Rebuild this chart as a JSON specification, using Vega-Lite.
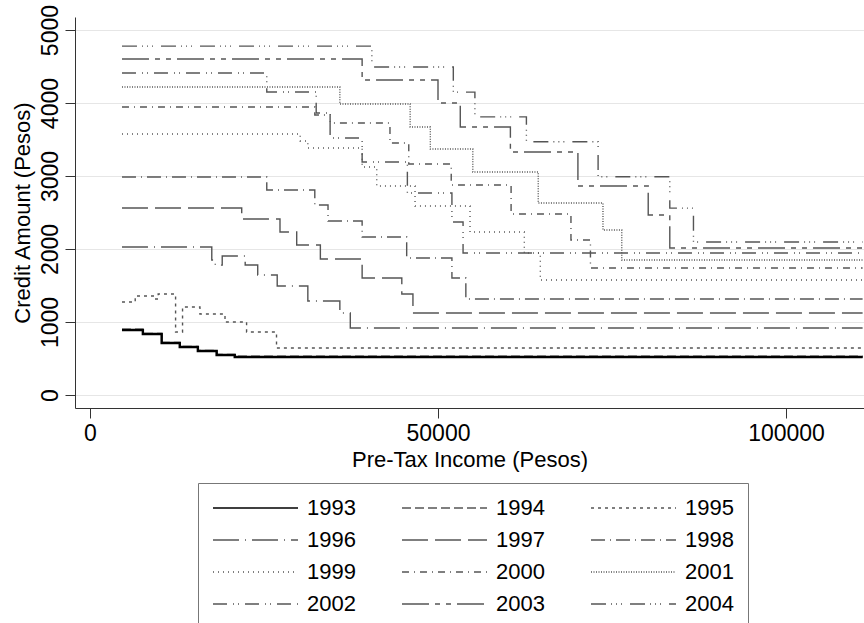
{
  "$schema": "https://vega.github.io/schema/vega-lite/v6.json",
  "width": 789,
  "height": 391,
  "autosize": {"type": "none"},
  "padding": {"left": 75, "top": 17, "right": 0, "bottom": 215},
  "background": "white",
  "config": {
    "font": "Liberation Sans",
    "view": {"stroke": null},
    "axis": {
      "labelFont": "Liberation Sans",
      "titleFont": "Liberation Sans",
      "labelFontSize": 23,
      "titleFontSize": 22,
      "titleFontWeight": "normal",
      "labelColor": "#000000",
      "titleColor": "#000000",
      "domainColor": "#333333",
      "tickColor": "#333333",
      "tickSize": 10,
      "gridColor": "#e6e6e6",
      "gridWidth": 1
    }
  },
  "data": {
    "values": [
      {"year": "1993", "income": 4600, "credit": 890},
      {"year": "1993", "income": 7600, "credit": 836},
      {"year": "1993", "income": 10300, "credit": 712},
      {"year": "1993", "income": 12900, "credit": 658},
      {"year": "1993", "income": 15500, "credit": 603},
      {"year": "1993", "income": 18200, "credit": 548},
      {"year": "1993", "income": 20800, "credit": 520},
      {"year": "1993", "income": 111000, "credit": 520},

      {"year": "1994", "income": 4600, "credit": 900},
      {"year": "1994", "income": 7600, "credit": 845},
      {"year": "1994", "income": 10300, "credit": 720},
      {"year": "1994", "income": 12900, "credit": 665},
      {"year": "1994", "income": 15500, "credit": 610},
      {"year": "1994", "income": 18200, "credit": 555},
      {"year": "1994", "income": 20800, "credit": 530},
      {"year": "1994", "income": 111000, "credit": 530},

      {"year": "1995", "income": 4600, "credit": 1274},
      {"year": "1995", "income": 6500, "credit": 1356},
      {"year": "1995", "income": 9300, "credit": 1315},
      {"year": "1995", "income": 9800, "credit": 1384},
      {"year": "1995", "income": 12300, "credit": 863},
      {"year": "1995", "income": 13300, "credit": 1206},
      {"year": "1995", "income": 15800, "credit": 1110},
      {"year": "1995", "income": 19400, "credit": 1000},
      {"year": "1995", "income": 22500, "credit": 863},
      {"year": "1995", "income": 26800, "credit": 644},
      {"year": "1995", "income": 111000, "credit": 644},

      {"year": "1996", "income": 4600, "credit": 2027},
      {"year": "1996", "income": 17500, "credit": 1850},
      {"year": "1996", "income": 18000, "credit": 1780},
      {"year": "1996", "income": 19000, "credit": 1904},
      {"year": "1996", "income": 22300, "credit": 1781},
      {"year": "1996", "income": 24100, "credit": 1644},
      {"year": "1996", "income": 26900, "credit": 1493},
      {"year": "1996", "income": 31300, "credit": 1288},
      {"year": "1996", "income": 35900, "credit": 1123},
      {"year": "1996", "income": 37400, "credit": 918},
      {"year": "1996", "income": 111000, "credit": 918},

      {"year": "1997", "income": 4600, "credit": 2562},
      {"year": "1997", "income": 21800, "credit": 2411},
      {"year": "1997", "income": 27300, "credit": 2233},
      {"year": "1997", "income": 29700, "credit": 2055},
      {"year": "1997", "income": 33100, "credit": 1863},
      {"year": "1997", "income": 39100, "credit": 1603},
      {"year": "1997", "income": 44800, "credit": 1384},
      {"year": "1997", "income": 46400, "credit": 1123},
      {"year": "1997", "income": 111000, "credit": 1123},

      {"year": "1998", "income": 4600, "credit": 2987},
      {"year": "1998", "income": 25400, "credit": 2809},
      {"year": "1998", "income": 32300, "credit": 2603},
      {"year": "1998", "income": 34200, "credit": 2384},
      {"year": "1998", "income": 39100, "credit": 2165},
      {"year": "1998", "income": 45500, "credit": 1877},
      {"year": "1998", "income": 52000, "credit": 1603},
      {"year": "1998", "income": 54000, "credit": 1315},
      {"year": "1998", "income": 111000, "credit": 1315},

      {"year": "1999", "income": 4600, "credit": 3576},
      {"year": "1999", "income": 30200, "credit": 3480},
      {"year": "1999", "income": 31300, "credit": 3384},
      {"year": "1999", "income": 39100, "credit": 3124},
      {"year": "1999", "income": 41200, "credit": 2863},
      {"year": "1999", "income": 46700, "credit": 2589},
      {"year": "1999", "income": 54600, "credit": 2233},
      {"year": "1999", "income": 62400, "credit": 1945},
      {"year": "1999", "income": 64700, "credit": 1576},
      {"year": "1999", "income": 111000, "credit": 1576},

      {"year": "2000", "income": 4600, "credit": 3946},
      {"year": "2000", "income": 32300, "credit": 3836},
      {"year": "2000", "income": 34500, "credit": 3726},
      {"year": "2000", "income": 43100, "credit": 3452},
      {"year": "2000", "income": 45800, "credit": 3165},
      {"year": "2000", "income": 51900, "credit": 2877},
      {"year": "2000", "income": 60500, "credit": 2480},
      {"year": "2000", "income": 69100, "credit": 2124},
      {"year": "2000", "income": 71900, "credit": 1740},
      {"year": "2000", "income": 111000, "credit": 1740},

      {"year": "2001", "income": 4600, "credit": 4220},
      {"year": "2001", "income": 35900, "credit": 3987},
      {"year": "2001", "income": 46000, "credit": 3672},
      {"year": "2001", "income": 48900, "credit": 3370},
      {"year": "2001", "income": 55000, "credit": 3055},
      {"year": "2001", "income": 64400, "credit": 2630},
      {"year": "2001", "income": 73700, "credit": 2260},
      {"year": "2001", "income": 76400, "credit": 1850},
      {"year": "2001", "income": 111000, "credit": 1850},

      {"year": "2002", "income": 4600, "credit": 4411},
      {"year": "2002", "income": 25400, "credit": 4151},
      {"year": "2002", "income": 32500, "credit": 3863},
      {"year": "2002", "income": 34500, "credit": 3521},
      {"year": "2002", "income": 39100, "credit": 3192},
      {"year": "2002", "income": 45600, "credit": 2767},
      {"year": "2002", "income": 52000, "credit": 2370},
      {"year": "2002", "income": 53600, "credit": 1945},
      {"year": "2002", "income": 111000, "credit": 1945},

      {"year": "2003", "income": 4600, "credit": 4603},
      {"year": "2003", "income": 39100, "credit": 4316},
      {"year": "2003", "income": 50000, "credit": 4000},
      {"year": "2003", "income": 53200, "credit": 3672},
      {"year": "2003", "income": 60400, "credit": 3329},
      {"year": "2003", "income": 70100, "credit": 2863},
      {"year": "2003", "income": 80200, "credit": 2466},
      {"year": "2003", "income": 83300, "credit": 2014},
      {"year": "2003", "income": 111000, "credit": 2014},

      {"year": "2004", "income": 4600, "credit": 4780},
      {"year": "2004", "income": 40500, "credit": 4494},
      {"year": "2004", "income": 52200, "credit": 4150},
      {"year": "2004", "income": 55300, "credit": 3810},
      {"year": "2004", "income": 62700, "credit": 3470},
      {"year": "2004", "income": 73000, "credit": 2990},
      {"year": "2004", "income": 83300, "credit": 2560},
      {"year": "2004", "income": 86700, "credit": 2096},
      {"year": "2004", "income": 111000, "credit": 2096}
    ]
  },
  "encoding": {
    "x": {
      "field": "income",
      "type": "quantitative",
      "title": "Pre-Tax Income (Pesos)",
      "scale": {"domain": [-2150, 111200], "nice": false, "zero": false},
      "axis": {"values": [0, 50000, 100000], "format": "d", "grid": false, "labelPadding": 4, "titlePadding": 4}
    },
    "y": {
      "field": "credit",
      "type": "quantitative",
      "title": "Credit Amount (Pesos)",
      "scale": {"domain": [-178, 5179], "nice": false, "zero": false},
      "axis": {
        "values": [0, 1000, 2000, 3000, 4000, 5000],
        "format": "d",
        "grid": true,
        "labelAngle": -90,
        "labelAlign": "center",
        "labelBaseline": "alphabetic",
        "labelPadding": 8,
        "titlePadding": 5
      }
    }
  },
  "layer": [
    {
      "mark": {"type": "line", "interpolate": "step-after", "strokeWidth": 1.4},
      "encoding": {
        "color": {
          "field": "year",
          "type": "nominal",
          "scale": {
            "domain": ["1993", "1994", "1995", "1996", "1997", "1998", "1999", "2000", "2001", "2002", "2003", "2004"],
            "range": ["#000000", "#555555", "#555555", "#555555", "#555555", "#555555", "#555555", "#555555", "#555555", "#555555", "#555555", "#555555"]
          },
          "legend": {
            "title": null,
            "orient": "none",
            "legendX": 123,
            "legendY": 466,
            "columns": 3,
            "direction": "horizontal",
            "symbolType": "stroke",
            "symbolSize": 7225,
            "symbolStrokeWidth": 1.4,
            "clipHeight": 22,
            "labelFontSize": 22,
            "labelFont": "Liberation Sans",
            "labelColor": "#000000",
            "labelOffset": 8,
            "labelLimit": 300,
            "rowPadding": 10,
            "columnPadding": 45,
            "padding": 14,
            "strokeColor": "#777777",
            "fillColor": "white"
          }
        },
        "strokeDash": {
          "field": "year",
          "type": "nominal",
          "scale": {
            "domain": ["1993", "1994", "1995", "1996", "1997", "1998", "1999", "2000", "2001", "2002", "2003", "2004"],
            "range": [[1, 0], [9, 4], [3, 4], [26, 6, 1, 6], [26, 7], [14, 5, 1, 5], [1, 4], [7, 5, 1, 5], [1, 1.5], [14, 6, 1, 4, 1, 6], [27, 6, 5, 6, 5, 6], [15, 5, 1, 4, 1, 4, 1, 8]]
          },
          "legend": {
            "title": null,
            "orient": "none",
            "legendX": 123,
            "legendY": 466,
            "columns": 3,
            "direction": "horizontal",
            "symbolType": "stroke",
            "symbolSize": 7225,
            "symbolStrokeWidth": 1.4,
            "clipHeight": 22,
            "labelFontSize": 22,
            "labelFont": "Liberation Sans",
            "labelColor": "#000000",
            "labelOffset": 8,
            "labelLimit": 300,
            "rowPadding": 10,
            "columnPadding": 45,
            "padding": 14,
            "strokeColor": "#777777",
            "fillColor": "white"
          }
        }
      }
    },
    {
      "transform": [{"filter": "datum.year == '1993'"}],
      "mark": {"type": "line", "interpolate": "step-after", "strokeWidth": 2.4, "color": "#000000"},
      "encoding": {}
    }
  ]
}
